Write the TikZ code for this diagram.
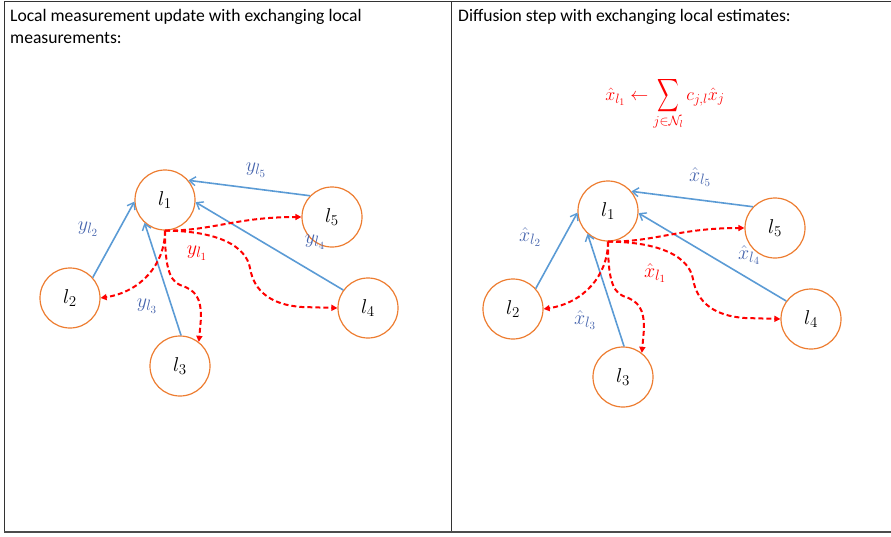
\RequirePackage{fix-cm}
\documentclass[tikz,border=0pt]{standalone}
\usepackage[no-math]{fontspec}
\usepackage{graphicx}
\setmainfont{Carlito}
\usetikzlibrary{arrows.meta}
\DeclareMathSizes{20}{20}{15}{11}
\DeclareMathSizes{18}{18}{13.5}{10}
\definecolor{ringorange}{HTML}{ED7D31}
\definecolor{linkblue}{HTML}{5B9BD5}
\definecolor{labelblue}{HTML}{4866AE}
\definecolor{bcastred}{HTML}{FF0000}
% a tall, narrow summation sign drawn from a fixed 10pt glyph
\newcommand{\bigsum}{\mathop{\vcenter{\hbox{\fontsize{10}{10}\selectfont\scalebox{1.5}[2.3]{$\displaystyle\sum$}}}}\limits}
\tikzset{
  agent/.style={circle, draw=ringorange, line width=1.2pt, minimum size=60pt, inner sep=0pt,
    font=\fontsize{20}{24}\selectfont},
  uplink/.style={draw=linkblue, line width=1.6pt, -{Straight Barb[length=6pt,width=9pt,line width=1.4pt]}},
  bcast/.style={draw=bcastred, line width=2pt, dash pattern=on 5pt off 3pt,
    -{Triangle[length=6pt,width=6pt]}},
  blab/.style={text=labelblue, font=\fontsize{20}{24}\selectfont},
  rlab/.style={text=bcastred, font=\fontsize{20}{24}\selectfont},
  heading/.style={anchor=north west, align=left, inner sep=0pt, font=\fontsize{17.6}{22}\selectfont},
  frame/.style={draw=black!80, line width=0.9pt}
}
% one network: five agents, their uplinks to l1 and the broadcasts from l1
\newcommand{\netgraph}[1]{%
  \node[agent] (#1a1) at (165,200) {$l_1$};
  \node[agent] (#1a2) at (70,298) {$l_2$};
  \node[agent] (#1a3) at (180,366) {$l_3$};
  \node[agent] (#1a4) at (368,308) {$l_4$};
  \node[agent] (#1a5) at (332,217) {$l_5$};
  \draw[uplink] (#1a2.42) -- (#1a1.183);
  \draw[uplink] (#1a3.88) -- (#1a1.228);
  \draw[uplink] (#1a5.136) -- (#1a1.40);
  \draw[uplink] (#1a4.144) -- (#1a1.-4);
  \draw[bcast] (#1a1.south) .. controls (165,265) and (140,292) .. (#1a2.east);
  \draw[bcast] (#1a1.south) .. controls (165,262) and (168,280) .. (180,285)
    .. controls (196,290) and (201,298) .. (201,318) -- (#1a3.52);
  \draw[bcast] (#1a1.south) .. controls (218,231) and (246,246) .. (250,268)
    .. controls (254,292) and (272,305) .. (302,307) -- (#1a4.west);
  \draw[bcast] (#1a1.south) .. controls (212,231) and (236,217) .. (#1a5.west);
}
\begin{document}
\begin{tikzpicture}[x=1pt,y=-1pt]
  \useasboundingbox (0,0) rectangle (891,536);
  % table frame
  \draw[frame] (4,1.5) -- (891,1.5);
  \draw[frame] (4.5,1) -- (4.5,532);
  \draw[frame] (451,1) -- (451,532);
  \draw[draw=black!70, line width=2.2pt] (4,532) -- (891,532);
  % headings
  \node[heading] (hleft) at (10,9.5) {Local measurement update with exchanging local\\measurements:};
  \node[heading] (hright) at (458,9.5) {Diffusion step with exchanging local estimates:};

  % left panel: local measurements
  \begin{scope}
    \netgraph{L}
  \end{scope}
  \node[blab] (ly5) at (256,170) {$y_{l_5}$};
  \node[blab] (ly2) at (88,229) {$y_{l_2}$};
  \node[rlab] (ly1) at (197,253) {$y_{l_1}$};
  \node[blab] (ly3) at (147,306) {$y_{l_3}$};
  \node[blab] (ly4) at (315,242) {$y_{l_4}$};

  % right panel: local estimates
  \begin{scope}[shift={(443,11)}]
    \netgraph{R}
  \end{scope}
  \node[rlab, font=\fontsize{18}{22}\selectfont] (formula) at (665,103) {$\hat{x}_{l_1} \leftarrow \bigsum_{j\in\mathcal{N}_l} c_{j,l}\hat{x}_j$};
  \node[blab] (rx5) at (700,177) {$\hat{x}_{l_5}$};
  \node[blab] (rx2) at (530,237) {$\hat{x}_{l_2}$};
  \node[rlab] (rx1) at (655,273) {$\hat{x}_{l_1}$};
  \node[blab] (rx3) at (585,320) {$\hat{x}_{l_3}$};
  \node[blab] (rx4) at (749,255) {$\hat{x}_{l_4}$};
\end{tikzpicture}
\end{document}
